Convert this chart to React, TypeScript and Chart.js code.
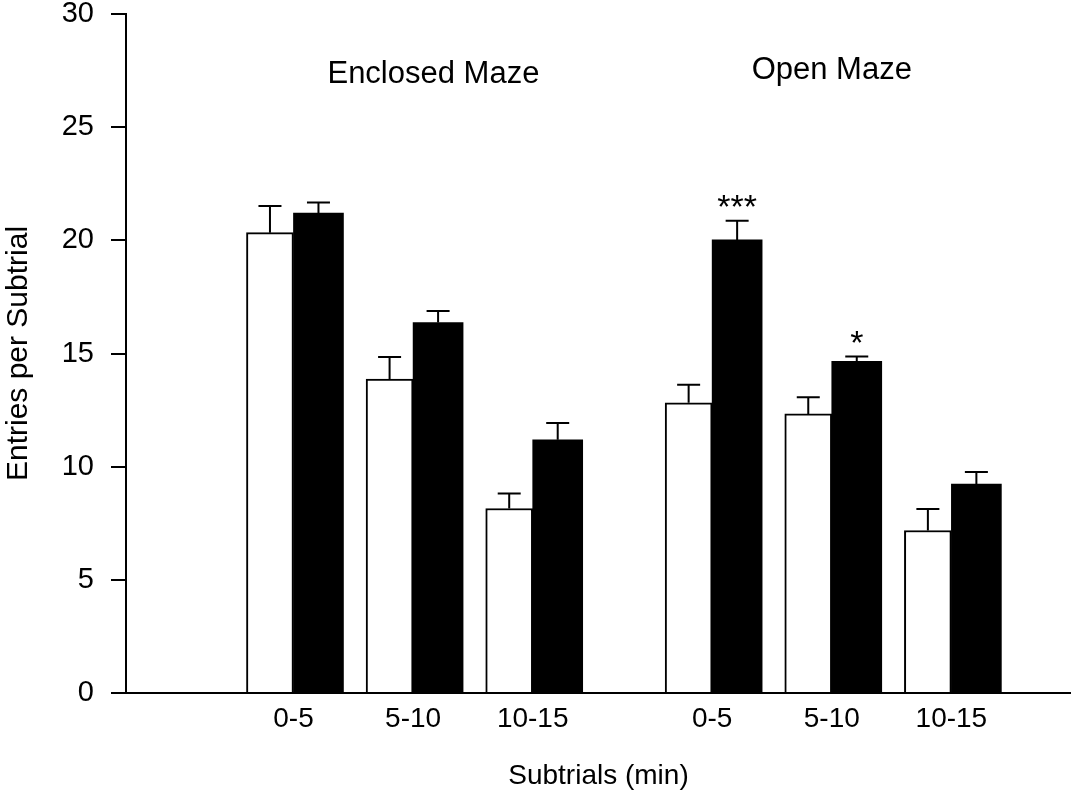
import React, { useEffect, useRef } from "react";
import { Chart, registerables } from "chart.js";

Chart.register(...registerables);

// ---- data ----
const xLabels = ["0-5", "5-10", "10-15", "0-5", "5-10", "10-15"];
const xPositions = [1, 2, 3, 4.5, 5.5, 6.5];
const openBarMeans = [20.34, 13.87, 8.15, 12.82, 12.33, 7.18];
const openBarErrors = [1.18, 0.97, 0.66, 0.8, 0.74, 0.95];
const filledBarMeans = [21.2, 16.37, 11.19, 20.02, 14.65, 9.23];
const filledBarErrors = [0.47, 0.51, 0.74, 0.84, 0.22, 0.53];
const significance = ["", "", "", "***", "*", ""];
const groupLabels = ["Enclosed Maze", "Open Maze"];
const groupLabelX = [2.17, 5.5];
const groupLabelY = [27.35, 27.5];
const yTicks = [0, 5, 10, 15, 20, 25, 30];
const yTitle = "Entries per Subtrial";
const xTitle = "Subtrials (min)";

const FONT = "'Liberation Sans', Arial, Helvetica, sans-serif";

const annotationPlugin = {
  id: "annotationPlugin",
  afterDatasetsDraw(chart: any) {
    const ctx = chart.ctx as CanvasRenderingContext2D;
    const xs = chart.scales.x;
    const ys = chart.scales.y;
    const means = [openBarMeans, filledBarMeans];
    const errs = [openBarErrors, filledBarErrors];
    ctx.save();
    ctx.strokeStyle = "#000";
    ctx.lineWidth = 2;
    for (let d = 0; d < 2; d++) {
      const meta = chart.getDatasetMeta(d);
      meta.data.forEach((bar: any, i: number) => {
        const x = bar.x;
        const yBar = ys.getPixelForValue(means[d][i]);
        const yTop = ys.getPixelForValue(means[d][i] + errs[d][i]);
        ctx.beginPath();
        ctx.moveTo(x, yBar);
        ctx.lineTo(x, yTop);
        ctx.moveTo(x - 11.5, yTop);
        ctx.lineTo(x + 11.5, yTop);
        ctx.stroke();
      });
    }
    ctx.fillStyle = "#000";
    ctx.textAlign = "center";
    ctx.textBaseline = "alphabetic";
    ctx.font = `34px ${FONT}`;
    const meta1 = chart.getDatasetMeta(1);
    significance.forEach((s, i) => {
      if (!s) return;
      const x = meta1.data[i].x;
      const y = ys.getPixelForValue(filledBarMeans[i] + filledBarErrors[i]);
      ctx.fillText(s, x, y - 2.5);
    });
    ctx.font = `31px ${FONT}`;
    ctx.textBaseline = "middle";
    groupLabels.forEach((g, i) => {
      ctx.fillText(g, xs.getPixelForValue(groupLabelX[i]), ys.getPixelForValue(groupLabelY[i]));
    });
    ctx.restore();
  },
};

export default function App() {
  const canvasRef = useRef<HTMLCanvasElement | null>(null);

  useEffect(() => {
    if (!canvasRef.current) return;
    Chart.defaults.font.family = FONT;
    Chart.defaults.color = "#000";
    const chart = new Chart(canvasRef.current, {
      type: "bar",
      data: {
        datasets: [
          {
            label: "open",
            data: xPositions.map((x, i) => ({ x, y: openBarMeans[i] })),
            backgroundColor: "#ffffff",
            borderColor: "#000000",
            borderWidth: 2,
            barThickness: 47,
          },
          {
            label: "filled",
            data: xPositions.map((x, i) => ({ x, y: filledBarMeans[i] })),
            backgroundColor: "#000000",
            borderWidth: 0,
            barThickness: 50,
          },
        ],
      },
      options: {
        animation: false,
        responsive: false,
        maintainAspectRatio: false,
        layout: { padding: { top: 14, right: 0, bottom: 0, left: 0 } },
        plugins: {
          legend: { display: false },
          tooltip: { enabled: false },
        },
        scales: {
          x: {
            type: "linear",
            offset: false,
            min: -0.4,
            max: 7.5,
            afterBuildTicks: (scale: any) => {
              scale.ticks = xPositions.map((v) => ({ value: v }));
            },
            afterFit: (scale: any) => {
              scale.height = 101;
              scale.paddingLeft = 0;
              scale.paddingRight = 0;
            },
            ticks: {
              autoSkip: false,
              maxRotation: 0,
              padding: 9,
              font: { size: 28 },
              color: "#000",
              callback: (_v: any, i: number) => xLabels[i],
            },
            grid: { display: false, drawTicks: false, drawOnChartArea: false },
            border: { display: true, color: "#000", width: 2, z: 1 },
            title: {
              display: true,
              text: xTitle,
              font: { size: 28 },
              color: "#000",
              padding: { top: 0, bottom: 1 },
            },
          },
          y: {
            type: "linear",
            min: 0,
            max: 30,
            afterBuildTicks: (scale: any) => {
              scale.ticks = yTicks.map((v) => ({ value: v }));
            },
            afterFit: (scale: any) => {
              scale.width = 126;
              scale.paddingTop = 0;
              scale.paddingBottom = 0;
            },
            ticks: {
              padding: 17,
              font: { size: 29 },
              color: "#000",
              callback: (v: any) => String(v),
            },
            grid: {
              display: true,
              drawOnChartArea: false,
              drawTicks: true,
              tickLength: 15,
              color: "#000",
              lineWidth: 2,
            },
            border: { display: true, color: "#000", width: 2, z: 1 },
            title: {
              display: true,
              text: yTitle,
              font: { size: 30 },
              color: "#000",
              padding: { top: 1, bottom: 0 },
            },
          },
        },
      },
      plugins: [annotationPlugin],
    } as any);
    return () => chart.destroy();
  }, []);

  return (
    <div style={{ position: "fixed", left: 0, top: 0, width: 1071, height: 794, background: "#fff" }}>
      <canvas ref={canvasRef} width={1071} height={794} style={{ display: "block", width: 1071, height: 794 }} />
    </div>
  );
}
